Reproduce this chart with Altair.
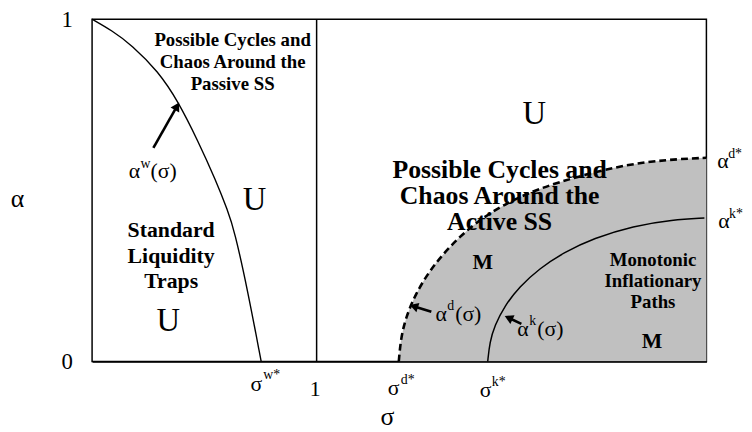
import math
import altair as alt
import pandas as pd

# ---------------- values ----------------
SIGMA_MAX = 2.736          # right edge of the box (σ = 1 at the separating line)
W, H = 621, 346            # plot area in px

# α^w(σ) : solid curve from (0,1) to σ^w*
aw_sigma = [0.0, 0.088, 0.176, 0.295, 0.383, 0.471, 0.551, 0.604, 0.634, 0.692, 0.753]
aw_alpha = [1.0, 0.967, 0.925, 0.847, 0.760, 0.645, 0.529, 0.441, 0.382, 0.211, 0.0]

# α^d(σ) : dashed curve bounding the grey region, from σ^d* to α^d*
ad_sigma = [1.366, 1.375, 1.397, 1.441, 1.507, 1.595, 1.705, 1.837, 1.991,
            2.168, 2.366, 2.564, 2.736]
ad_alpha = [0.0, 0.067, 0.128, 0.198, 0.269, 0.338, 0.405, 0.460, 0.506,
            0.541, 0.574, 0.590, 0.595]

# α^k(σ) : solid curve from σ^k* to α^k*
ak_sigma = [1.762, 1.771, 1.793, 1.837, 1.903, 1.991, 2.102, 2.234, 2.410, 2.586, 2.727]
ak_alpha = [0.0, 0.056, 0.105, 0.162, 0.218, 0.271, 0.319, 0.360, 0.396, 0.414, 0.419]

sep_sigma = [1.0]          # vertical line σ = 1
x_ticks = [1]
y_ticks = [0, 1]

# labels made of a base glyph + superscript (+ optional "(σ)")
base_text = ["σ", "σ", "σ", "α", "α", "α", "α", "α"]
base_s = [0.705, 1.317, 1.727, 2.784, 2.789, 0.163, 1.529, 1.894]
base_a = [-0.087, -0.098, -0.104, 0.566, 0.390, 0.535, 0.118, 0.075]
sup_text = ["w*", "d*", "k*", "d*", "k*", "w", "d", "k"]
sup_s = [0.762, 1.375, 1.780, 2.833, 2.837, 0.216, 1.582, 1.947]
sup_a = [-0.052, -0.066, -0.072, 0.595, 0.419, 0.566, 0.150, 0.107]
tail_text = ["(σ)", "(σ)", "(σ)"]
tail_s = [0.260, 1.617, 1.983]
tail_a = [0.535, 0.118, 0.075]

# big "U" markers
u_text = ["U", "U", "U"]
u_s = [1.969, 0.723, 0.339]
u_a = [0.723, 0.471, 0.118]

# bold region texts (position = centre of the first line)
region_text = [
    "Possible Cycles and\nChaos Around the\nPassive SS",
    "Possible Cycles and\nChaos Around the\nActive SS",
    "Standard\nLiquidity\nTraps",
    "Monotonic\nInflationary\nPaths",
    "M",
    "M",
]
region_s = [0.626, 1.815, 0.352, 2.498, 1.740, 2.494]
region_a = [0.939, 0.558, 0.384, 0.295, 0.289, 0.061]
region_fs = [19, 26, 22, 19, 22, 22]
region_lh = [22, 26, 26, 21, 24, 24]

# arrows pointing at the curves
arrow_tail_s = [0.273, 1.511, 1.912]
arrow_tail_a = [0.624, 0.145, 0.110]
arrow_tip_s = [0.388, 1.414, 1.837]
arrow_tip_a = [0.757, 0.165, 0.133]

FONT = "Liberation Serif"
PX = W / SIGMA_MAX
PY = H / 1.0

# ---------------- tables ----------------
aw_df = pd.DataFrame({"s": aw_sigma, "a": aw_alpha})
ad_df = pd.DataFrame({"s": ad_sigma, "a": ad_alpha, "z": [0.0] * len(ad_sigma)})
ak_df = pd.DataFrame({"s": ak_sigma, "a": ak_alpha})
sep_df = pd.DataFrame({"s": sep_sigma, "a": [0.0], "a2": [1.0]})

pieces = []
for t, s, a in zip(base_text, base_s, base_a):
    pieces.append({"t": t, "s": s, "a": a, "fs": 22})
for t, s, a in zip(sup_text, sup_s, sup_a):
    pieces.append({"t": t, "s": s, "a": a, "fs": 14})
for t, s, a in zip(tail_text, tail_s, tail_a):
    pieces.append({"t": t, "s": s, "a": a, "fs": 22})
pieces_df = pd.DataFrame(pieces)

u_df = pd.DataFrame({"t": u_text, "s": u_s, "a": u_a})

shaft_rows, head_rows = [], []
for ts, ta, hs, ha in zip(arrow_tail_s, arrow_tail_a, arrow_tip_s, arrow_tip_a):
    dx = (hs - ts) * PX
    dy = (ha - ta) * PY          # upward positive
    L = math.hypot(dx, dy)
    ux, uy = dx / L, dy / L
    ang = math.degrees(math.atan2(dx, dy)) % 360
    shaft_rows.append({"s": ts, "a": ta,
                       "s2": hs - ux * 5 / PX, "a2": ha - uy * 5 / PY})
    head_rows.append({"s": hs - ux * 4.5 / PX, "a": ha - uy * 4.5 / PY, "ang": ang})
shaft_df = pd.DataFrame(shaft_rows)
head_df = pd.DataFrame(head_rows)

# ---------------- encodings ----------------
X = alt.X("s:Q",
          scale=alt.Scale(domain=[0, SIGMA_MAX], nice=False, zero=False),
          axis=alt.Axis(values=x_ticks, format="d", title="σ", grid=False,
                        domain=True, domainColor="black", domainWidth=1.5,
                        ticks=False, labelPadding=17, labelFontSize=22,
                        labelFont=FONT, labelColor="black", labelOffset=-2,
                        titleFont=FONT, titleFontSize=26, titleFontWeight="normal",
                        titleColor="black", titleX=298, titleY=64,
                        titleAlign="center", titleBaseline="alphabetic",
                        zindex=1))
Y = alt.Y("a:Q",
          scale=alt.Scale(domain=[0, 1], nice=False, zero=False),
          axis=alt.Axis(values=y_ticks, format="d", title="α", grid=False,
                        domain=False, ticks=False, labelPadding=20,
                        labelFontSize=23, labelFont=FONT, labelColor="black",
                        titleFont=FONT, titleFontSize=26, titleFontWeight="normal",
                        titleColor="black", titleAngle=0, titleX=-76, titleY=181,
                        titleAlign="center", titleBaseline="middle"))

area = alt.Chart(ad_df).mark_area(color="#c0c0c0", opacity=1,
                                  interpolate="basis").encode(
    x=X, y=Y, y2=alt.Y2("z:Q"))

sep = alt.Chart(sep_df).mark_rule(color="black", strokeWidth=1.5).encode(
    x=X, y=Y, y2=alt.Y2("a2:Q"))

aw_line = alt.Chart(aw_df).mark_line(color="black", strokeWidth=1.4,
                                     interpolate="basis").encode(x=X, y=Y)
ad_line = alt.Chart(ad_df).mark_line(color="black", strokeWidth=2.6,
                                     strokeDash=[7, 4],
                                     interpolate="basis").encode(x=X, y=Y)
ak_line = alt.Chart(ak_df).mark_line(color="black", strokeWidth=1.5,
                                     interpolate="basis").encode(x=X, y=Y)

shafts = alt.Chart(shaft_df).mark_rule(color="black", strokeWidth=2.6).encode(
    x=X, y=Y, x2=alt.X2("s2:Q"), y2=alt.Y2("a2:Q"))
heads = alt.Chart(head_df).mark_point(shape="triangle-up", filled=True,
                                      color="black", opacity=1, size=100).encode(
    x=X, y=Y, angle=alt.Angle("ang:Q", scale=None))

pieces_layer = alt.Chart(pieces_df).mark_text(
    font=FONT, align="left", baseline="alphabetic", color="black").encode(
    x=X, y=Y, text="t:N", size=alt.Size("fs:Q", scale=None))

u_layer = alt.Chart(u_df).mark_text(
    font=FONT, fontSize=33, align="center", baseline="middle", color="black").encode(
    x=X, y=Y, text="t:N")

region_layers = []
for t, s, a, fs, lh in zip(region_text, region_s, region_a, region_fs, region_lh):
    df = pd.DataFrame({"t": [t], "s": [s], "a": [a]})
    region_layers.append(
        alt.Chart(df).mark_text(font=FONT, fontWeight="bold", fontSize=fs,
                                lineHeight=lh, lineBreak="\n", align="center",
                                baseline="middle", color="black").encode(
            x=X, y=Y, text="t:N"))

chart = alt.layer(
    area, sep, aw_line, ad_line, ak_line, shafts, heads,
    pieces_layer, u_layer, *region_layers
).properties(
    width=W, height=H,
    autosize=alt.AutoSizeParams(type="none"),
    padding={"left": 85, "top": 9, "right": 38, "bottom": 69},
).configure_view(
    stroke="black", strokeWidth=1.5
)

chart.save("out.html", embed_options={"renderer": "svg", "actions": False})
